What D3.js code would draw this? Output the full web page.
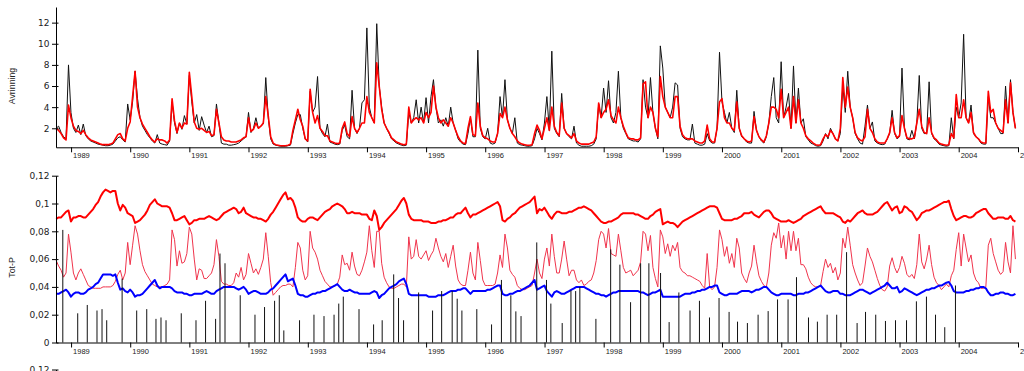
<!DOCTYPE html>
<html><head><meta charset="utf-8">
<script src="https://cdn.jsdelivr.net/npm/d3@7"></script>
<style>
body{margin:0;background:#fff;}
svg{display:block;}
</style>
</head><body>
<svg id="c" width="1024" height="371"></svg>
<script>
// ---- data: half-monthly samples starting 1988-10-01 (24 per year) ----
const seriesStart = "1988-10-01";
const samplesPerYear = 24;

// Avrinning, observed (black)
const runoffObs = [
 2.0,2.2,1.6,1.2,1.0,8.0,
 3.5,2.0,1.6,2.3,1.4,2.4,1.3,1.0,0.8,0.7,0.6,0.5,0.45,0.4,0.35,0.35,0.4,0.5,0.8,1.1,1.2,0.9,0.7,4.3,
 2.8,4.5,7.4,4.8,3.0,2.2,1.8,1.4,1.1,0.8,0.6,1.4,0.6,0.5,0.45,0.4,0.8,4.5,2.5,1.5,2.5,1.9,3.2,2.4,
 7.0,4.5,2.5,3.3,1.8,3.1,2.3,1.6,2.2,1.2,1.3,4.3,2.5,0.6,0.5,0.5,0.4,0.4,0.45,0.5,0.6,0.8,1.0,1.2,
 3.5,1.6,2.0,3.0,2.0,2.2,2.4,6.8,3.0,1.0,0.5,0.4,0.35,0.3,0.3,0.3,0.35,0.4,1.5,2.5,3.3,3.3,2.0,1.0,
 0.7,5.5,3.5,4.0,6.9,2.0,1.5,1.2,2.4,0.7,0.6,0.5,0.45,0.5,1.8,2.3,1.2,1.0,5.6,2.0,1.5,2.0,4.4,4.7,
 11.5,4.0,3.0,2.5,11.9,6.0,4.0,2.5,2.0,1.5,1.0,0.8,0.6,0.5,0.4,0.35,0.4,3.5,2.5,3.0,4.7,2.5,4.0,2.5,
 4.9,2.5,5.0,6.6,4.0,2.5,2.8,2.2,3.0,2.2,4.0,2.5,1.8,1.0,0.7,0.5,0.45,1.5,3.0,1.2,1.2,9.4,2.0,1.2,
 1.0,2.0,0.6,0.5,0.6,1.5,5.0,3.0,6.6,2.8,2.0,1.5,3.0,0.6,0.45,0.4,0.35,0.3,0.3,0.35,1.0,2.0,1.5,0.9,
 2.5,5.0,1.8,9.3,2.0,1.5,1.2,5.3,2.0,1.5,1.2,1.0,2.2,0.6,0.4,0.3,0.3,0.3,0.3,0.35,0.5,1.0,4.3,3.0,
 5.8,3.5,6.5,3.0,2.5,3.5,7.4,3.0,2.0,1.5,1.0,0.9,0.8,0.8,0.7,1.0,6.6,4.0,3.0,6.8,3.5,2.0,1.0,9.8,
 7.7,4.0,3.5,3.0,4.0,6.3,6.1,2.0,1.2,1.0,0.9,0.9,2.4,0.6,0.5,0.4,0.4,0.5,1.5,0.8,0.6,0.6,2.0,9.2,
 4.5,3.5,2.5,3.5,2.0,1.6,5.6,2.0,1.2,1.0,0.7,0.6,0.6,3.6,1.8,1.2,0.8,0.6,1.2,2.5,5.0,6.8,3.0,2.5,
 8.3,3.0,4.0,5.3,2.0,7.9,2.5,5.8,2.5,2.9,1.2,0.9,0.6,0.5,0.35,0.3,0.35,0.8,1.5,1.0,2.0,1.5,1.0,0.8,
 1.5,6.0,3.5,7.4,4.0,3.0,1.5,1.0,0.6,0.5,2.2,4.2,2.0,2.6,0.8,0.6,0.5,0.45,0.5,1.0,1.5,3.7,1.5,1.0,
 1.2,7.7,2.0,1.0,0.9,1.8,1.0,2.5,7.0,2.0,1.5,1.5,6.4,1.5,1.0,0.8,0.5,0.4,0.35,0.3,0.35,3.0,1.0,4.0,
 3.0,4.4,10.9,3.0,2.5,4.2,1.5,1.2,1.0,0.6,0.5,0.5,5.0,3.0,3.0,2.5,2.0,1.5,1.5,6.0,2.5,6.6,3.5,2.0
];

// Avrinning, simulated (red)
const runoffSim = [
 2.0,1.8,1.5,1.1,0.9,4.2,
 3.0,2.2,1.8,1.7,1.5,1.8,1.4,1.1,0.9,0.8,0.7,0.6,0.5,0.45,0.45,0.45,0.5,0.6,1.0,1.4,1.5,1.0,0.8,2.0,
 2.6,5.0,7.4,4.0,3.0,2.4,2.0,1.6,1.2,0.9,0.7,1.0,0.9,0.9,0.8,0.6,0.9,4.8,2.7,1.6,2.5,2.0,2.5,2.4,
 7.3,5.0,2.6,2.0,1.9,2.0,1.8,1.6,1.7,1.3,1.4,3.8,2.5,1.2,0.9,0.8,0.8,0.7,0.7,0.7,0.8,0.9,1.1,1.2,
 3.0,1.7,1.9,2.5,2.0,2.2,2.5,5.0,3.2,1.2,0.6,0.45,0.4,0.35,0.35,0.35,0.4,0.5,1.8,2.8,3.8,2.8,2.2,1.0,
 0.8,5.7,3.5,2.5,3.2,2.0,1.7,1.3,1.3,0.8,0.7,0.6,0.55,0.6,2.0,2.6,1.5,1.2,3.1,2.0,1.6,2.0,2.5,2.5,
 5.0,3.5,3.0,2.5,8.2,6.0,3.8,2.5,2.0,1.6,1.1,0.9,0.7,0.6,0.5,0.45,0.5,4.0,2.5,2.8,3.0,2.8,3.0,2.5,
 3.5,3.0,3.5,6.0,4.0,3.0,2.5,2.8,2.5,2.2,3.0,2.5,1.8,1.2,0.8,0.6,0.55,2.0,3.1,1.4,1.3,4.4,2.2,1.3,
 1.1,1.0,0.8,0.7,0.7,1.5,3.4,3.0,4.0,2.8,2.0,1.5,1.2,0.8,0.6,0.5,0.45,0.4,0.4,0.45,1.5,2.3,1.8,1.0,
 2.0,3.0,1.8,4.0,2.2,1.6,1.3,4.4,2.0,1.5,1.3,1.1,1.5,0.8,0.6,0.5,0.5,0.5,0.5,0.6,0.7,1.2,4.4,3.0,
 3.5,3.8,4.7,3.2,2.8,2.5,4.0,3.0,2.2,1.6,1.1,1.0,1.0,0.9,0.9,1.1,6.2,6.4,3.0,4.0,3.5,2.0,1.2,6.9,
 5.0,4.0,3.5,3.0,3.0,5.0,5.0,2.2,1.4,1.1,1.0,1.0,1.0,0.8,0.7,0.6,0.6,0.8,2.3,1.0,0.7,0.7,2.0,4.5,
 4.8,3.0,2.5,2.5,2.0,1.8,4.5,2.0,1.3,1.0,0.8,0.7,0.8,3.1,1.8,1.2,0.9,0.7,1.3,2.5,4.0,4.0,3.8,3.0,
 5.7,3.0,3.5,4.0,2.0,5.0,2.5,4.7,2.5,2.0,1.3,1.0,0.8,0.6,0.45,0.4,0.45,1.0,1.4,1.2,1.8,1.5,1.0,0.8,
 2.0,6.8,4.0,5.9,4.0,3.0,1.6,1.1,0.9,0.8,1.2,3.8,2.0,1.6,1.0,0.7,0.6,0.6,0.6,1.0,1.6,3.0,1.6,1.1,
 1.3,3.2,2.0,1.1,1.0,1.0,1.1,2.5,3.8,2.2,1.6,1.5,3.0,1.6,1.1,0.9,0.6,0.5,0.45,0.4,0.45,1.5,1.1,5.2,
 3.0,3.0,4.7,3.0,2.5,3.5,1.6,1.2,1.0,0.7,0.6,0.6,5.5,3.5,3.8,2.5,2.0,1.8,1.6,4.7,2.5,6.3,3.5,2.0
];

// Tot-P, upper thick red
const totPUpper = [
 0.089,0.090,0.090,0.092,0.094,0.095,
 0.087,0.090,0.090,0.091,0.091,0.090,0.090,0.092,0.094,0.096,0.099,0.101,0.105,0.108,0.110,0.109,0.108,0.109,0.109,0.100,0.095,0.099,0.097,0.093,
 0.092,0.091,0.086,0.087,0.088,0.090,0.092,0.095,0.099,0.101,0.103,0.100,0.099,0.098,0.098,0.098,0.097,0.093,0.088,0.088,0.089,0.090,0.091,0.088,
 0.085,0.086,0.088,0.088,0.089,0.089,0.089,0.090,0.091,0.090,0.089,0.088,0.089,0.091,0.093,0.094,0.095,0.096,0.097,0.096,0.093,0.094,0.097,0.093,
 0.092,0.091,0.090,0.090,0.089,0.089,0.088,0.087,0.089,0.092,0.094,0.097,0.100,0.103,0.106,0.108,0.103,0.104,0.102,0.097,0.090,0.088,0.087,0.087,
 0.089,0.090,0.090,0.089,0.088,0.090,0.092,0.094,0.095,0.096,0.098,0.099,0.100,0.099,0.098,0.096,0.093,0.093,0.094,0.093,0.093,0.093,0.092,0.092,
 0.092,0.089,0.088,0.095,0.091,0.081,0.083,0.086,0.088,0.090,0.092,0.094,0.096,0.099,0.102,0.104,0.100,0.092,0.089,0.088,0.088,0.088,0.088,0.087,
 0.087,0.087,0.086,0.086,0.086,0.087,0.087,0.088,0.088,0.089,0.090,0.090,0.092,0.093,0.093,0.095,0.097,0.093,0.090,0.092,0.092,0.093,0.094,0.095,
 0.096,0.097,0.098,0.099,0.100,0.101,0.098,0.088,0.087,0.089,0.090,0.092,0.093,0.095,0.097,0.098,0.099,0.100,0.101,0.103,0.105,0.093,0.096,0.095,
 0.097,0.094,0.091,0.089,0.092,0.094,0.094,0.093,0.093,0.093,0.094,0.094,0.095,0.096,0.097,0.097,0.098,0.097,0.096,0.095,0.093,0.091,0.089,0.087,
 0.086,0.086,0.087,0.087,0.088,0.089,0.090,0.092,0.093,0.093,0.093,0.093,0.093,0.092,0.092,0.091,0.090,0.089,0.089,0.091,0.092,0.094,0.095,0.096,
 0.085,0.086,0.087,0.086,0.086,0.085,0.083,0.085,0.087,0.088,0.089,0.090,0.091,0.092,0.093,0.094,0.095,0.096,0.097,0.098,0.098,0.098,0.097,0.093,
 0.089,0.088,0.088,0.088,0.088,0.089,0.089,0.090,0.091,0.093,0.093,0.093,0.094,0.092,0.091,0.090,0.092,0.094,0.095,0.095,0.093,0.090,0.089,0.088,
 0.087,0.087,0.087,0.088,0.087,0.086,0.087,0.088,0.089,0.091,0.092,0.093,0.094,0.095,0.096,0.097,0.098,0.095,0.093,0.093,0.093,0.093,0.092,0.091,
 0.090,0.087,0.086,0.088,0.087,0.089,0.091,0.093,0.094,0.095,0.093,0.092,0.092,0.092,0.093,0.094,0.096,0.098,0.100,0.101,0.098,0.095,0.097,0.098,
 0.093,0.094,0.098,0.097,0.095,0.094,0.091,0.088,0.090,0.093,0.094,0.095,0.095,0.096,0.097,0.098,0.099,0.100,0.101,0.101,0.102,0.096,0.091,0.088,
 0.089,0.090,0.091,0.091,0.090,0.090,0.091,0.093,0.094,0.095,0.096,0.096,0.093,0.091,0.089,0.089,0.090,0.090,0.090,0.089,0.089,0.091,0.088,0.087
];

// Tot-P, thin red
const totPThin = [
 0.059,0.055,0.052,0.047,0.050,0.078,
 0.065,0.050,0.045,0.050,0.053,0.049,0.045,0.041,0.040,0.039,0.039,0.039,0.039,0.040,0.040,0.040,0.040,0.041,0.044,0.049,0.052,0.045,0.050,0.072,
 0.056,0.070,0.084,0.078,0.066,0.056,0.051,0.048,0.045,0.042,0.041,0.040,0.040,0.040,0.041,0.042,0.045,0.081,0.074,0.055,0.066,0.057,0.058,0.064,
 0.083,0.078,0.060,0.045,0.053,0.052,0.046,0.046,0.048,0.050,0.056,0.074,0.062,0.044,0.042,0.042,0.041,0.041,0.043,0.050,0.047,0.054,0.045,0.049,
 0.064,0.057,0.050,0.053,0.049,0.054,0.060,0.079,0.062,0.043,0.034,0.036,0.038,0.040,0.041,0.041,0.042,0.042,0.040,0.054,0.072,0.068,0.052,0.045,
 0.048,0.080,0.068,0.065,0.060,0.052,0.048,0.044,0.042,0.040,0.040,0.041,0.042,0.047,0.063,0.056,0.057,0.052,0.065,0.055,0.049,0.048,0.052,0.058,
 0.065,0.084,0.066,0.054,0.080,0.080,0.057,0.047,0.043,0.040,0.039,0.039,0.040,0.041,0.042,0.042,0.040,0.076,0.060,0.062,0.074,0.062,0.060,0.063,
 0.066,0.059,0.063,0.066,0.075,0.068,0.062,0.058,0.064,0.054,0.062,0.070,0.055,0.045,0.042,0.041,0.041,0.052,0.065,0.050,0.045,0.072,0.059,0.045,
 0.041,0.041,0.041,0.041,0.042,0.050,0.063,0.054,0.078,0.068,0.052,0.049,0.047,0.041,0.039,0.038,0.038,0.039,0.040,0.041,0.050,0.060,0.050,0.046,
 0.060,0.068,0.055,0.078,0.062,0.050,0.050,0.060,0.073,0.060,0.048,0.052,0.052,0.045,0.043,0.045,0.041,0.042,0.044,0.045,0.050,0.059,0.074,0.080,
 0.078,0.068,0.082,0.064,0.063,0.062,0.078,0.066,0.054,0.050,0.051,0.052,0.048,0.050,0.052,0.058,0.080,0.078,0.066,0.077,0.054,0.046,0.040,0.081,
 0.076,0.064,0.071,0.062,0.070,0.066,0.072,0.054,0.051,0.050,0.048,0.048,0.047,0.046,0.045,0.044,0.041,0.039,0.064,0.040,0.038,0.040,0.054,0.081,
 0.074,0.062,0.069,0.057,0.064,0.054,0.075,0.068,0.050,0.046,0.043,0.050,0.055,0.070,0.058,0.048,0.044,0.041,0.040,0.050,0.070,0.079,0.075,0.086,
 0.068,0.077,0.060,0.080,0.066,0.080,0.066,0.075,0.056,0.056,0.053,0.047,0.043,0.041,0.040,0.040,0.041,0.051,0.060,0.054,0.057,0.050,0.054,0.045,
 0.050,0.075,0.068,0.083,0.070,0.056,0.050,0.045,0.041,0.043,0.055,0.068,0.062,0.058,0.052,0.046,0.041,0.038,0.037,0.040,0.055,0.061,0.054,0.050,
 0.054,0.062,0.057,0.049,0.047,0.049,0.046,0.056,0.078,0.058,0.053,0.060,0.070,0.056,0.047,0.043,0.041,0.038,0.040,0.042,0.040,0.048,0.052,0.067,
 0.079,0.055,0.078,0.068,0.058,0.063,0.050,0.045,0.043,0.039,0.039,0.040,0.070,0.075,0.064,0.058,0.052,0.049,0.051,0.072,0.058,0.050,0.084,0.060
];

// Tot-P, blue
const totPBlue = [
 0.035,0.035,0.036,0.037,0.038,0.036,
 0.033,0.035,0.036,0.036,0.035,0.035,0.036,0.038,0.039,0.040,0.042,0.043,0.046,0.049,0.049,0.049,0.049,0.048,0.049,0.043,0.038,0.039,0.037,0.036,
 0.038,0.036,0.033,0.034,0.034,0.035,0.037,0.039,0.041,0.043,0.045,0.041,0.039,0.040,0.040,0.040,0.040,0.039,0.037,0.036,0.036,0.036,0.035,0.035,
 0.034,0.034,0.035,0.035,0.035,0.035,0.036,0.037,0.036,0.035,0.035,0.037,0.038,0.039,0.040,0.040,0.040,0.040,0.040,0.039,0.038,0.039,0.040,0.038,
 0.035,0.036,0.037,0.037,0.036,0.035,0.035,0.035,0.036,0.038,0.039,0.041,0.043,0.045,0.047,0.049,0.044,0.045,0.046,0.041,0.035,0.034,0.034,0.033,
 0.033,0.034,0.035,0.035,0.036,0.036,0.037,0.037,0.038,0.039,0.040,0.041,0.042,0.040,0.038,0.037,0.037,0.038,0.037,0.036,0.036,0.035,0.035,0.035,
 0.035,0.035,0.036,0.037,0.036,0.032,0.034,0.035,0.037,0.039,0.040,0.041,0.042,0.044,0.045,0.046,0.042,0.035,0.034,0.034,0.034,0.034,0.034,0.034,
 0.034,0.033,0.033,0.033,0.033,0.034,0.034,0.034,0.035,0.036,0.037,0.037,0.037,0.038,0.038,0.039,0.039,0.037,0.035,0.037,0.037,0.037,0.037,0.037,
 0.037,0.038,0.038,0.039,0.040,0.041,0.041,0.035,0.034,0.034,0.035,0.035,0.036,0.037,0.037,0.038,0.039,0.040,0.041,0.043,0.045,0.038,0.039,0.040,
 0.041,0.037,0.035,0.033,0.036,0.037,0.036,0.035,0.035,0.036,0.037,0.038,0.039,0.040,0.040,0.040,0.040,0.039,0.038,0.037,0.036,0.035,0.035,0.034,
 0.034,0.033,0.034,0.035,0.036,0.036,0.037,0.037,0.037,0.037,0.037,0.037,0.037,0.037,0.037,0.036,0.036,0.035,0.034,0.035,0.036,0.036,0.037,0.038,
 0.033,0.033,0.033,0.033,0.033,0.033,0.033,0.033,0.034,0.035,0.035,0.035,0.036,0.036,0.037,0.037,0.038,0.038,0.039,0.040,0.040,0.041,0.041,0.036,
 0.035,0.034,0.034,0.035,0.035,0.035,0.035,0.036,0.037,0.037,0.037,0.037,0.036,0.037,0.038,0.038,0.039,0.040,0.040,0.038,0.036,0.035,0.034,0.034,
 0.035,0.035,0.035,0.035,0.035,0.034,0.034,0.035,0.035,0.035,0.036,0.036,0.037,0.038,0.039,0.040,0.041,0.039,0.037,0.036,0.036,0.037,0.037,0.037,
 0.035,0.035,0.034,0.034,0.034,0.035,0.036,0.037,0.038,0.038,0.037,0.036,0.035,0.036,0.037,0.038,0.039,0.040,0.041,0.043,0.041,0.039,0.039,0.040,
 0.036,0.037,0.039,0.038,0.037,0.036,0.035,0.034,0.035,0.036,0.037,0.038,0.038,0.039,0.039,0.040,0.041,0.041,0.042,0.043,0.0435,0.041,0.037,0.036,
 0.036,0.036,0.036,0.037,0.037,0.038,0.038,0.039,0.039,0.040,0.040,0.039,0.036,0.034,0.034,0.035,0.035,0.036,0.036,0.035,0.035,0.034,0.034,0.035
];

// Tot-P, observed samples (vertical bars)
const sampleDates = [
 "1988-11-11","1989-02-11","1989-04-11","1989-06-10","1989-07-11","1989-08-09","1989-11-12",
 "1990-02-10","1990-04-13","1990-06-09","1990-07-10","1990-08-10","1990-11-12",
 "1991-02-11","1991-04-11","1991-06-12","1991-07-09","1991-08-09","1991-11-11",
 "1992-02-10","1992-04-09","1992-06-10","1992-07-09","1992-08-06","1992-11-11",
 "1993-02-08","1993-04-11","1993-06-12","1993-07-11","1993-08-08","1993-11-13",
 "1994-02-11","1994-04-05","1994-06-15","1994-07-15","1994-08-15","1994-11-16",
 "1995-02-10","1995-04-07","1995-06-11","1995-07-12","1995-08-10","1995-11-10",
 "1996-02-09","1996-04-10","1996-06-07","1996-07-08","1996-08-09","1996-11-14",
 "1997-01-13","1997-02-09","1997-04-20","1997-06-13","1997-07-12","1997-08-07","1997-11-14",
 "1998-02-13","1998-04-11","1998-06-16","1998-08-17","1998-10-07","1998-12-18",
 "1999-02-09","1999-04-10","1999-06-18","1999-08-15","1999-10-16","1999-12-14",
 "2000-02-14","2000-04-06","2000-06-06","2000-08-11","2000-10-12","2000-12-09",
 "2001-02-12","2001-04-05","2001-06-18","2001-08-12","2001-10-11","2001-12-09",
 "2002-02-08","2002-04-14","2002-06-05","2002-08-07","2002-10-06","2002-12-07",
 "2003-02-13","2003-04-15","2003-06-16","2003-08-11","2003-10-07","2003-12-12"
];
const sampleValues = [
 0.081,0.021,0.027,0.023,0.024,0.016,0.046,
 0.023,0.024,0.017,0.018,0.016,0.021,
 0.016,0.030,0.017,0.064,0.057,0.034,
 0.020,0.0255,0.030,0.034,0.0087,0.016,
 0.020,0.019,0.020,0.028,0.033,0.024,
 0.013,0.016,0.049,0.032,0.016,0.036,
 0.023,0.037,0.037,0.0315,0.023,0.024,
 0.013,0.045,0.034,0.0224,0.019,0.072,
 0.045,0.028,0.014,0.0375,0.037,0.040,0.017,
 0.067,0.056,0.029,0.057,0.057,0.050,
 0.0147,0.036,0.023,0.030,0.018,0.032,
 0.022,0.015,0.014,0.020,0.0226,0.031,
 0.031,0.047,0.018,0.015,0.020,0.020,
 0.065,0.014,0.022,0.020,0.0155,0.016,
 0.016,0.0296,0.033,0.020,0.011,0.041
];

const runoffTicks = [2,4,6,8,10,12];
const totPTicks = [0,0.02,0.04,0.06,0.08,0.1,0.12];
const nextPanelTicks = [0.12];
const yTitles = ["Avrinning","Tot-P"];

// ---- drawing ----
const svg = d3.select("#c");
const parse = d3.utcParse("%Y-%m-%d");
const t0 = parse(seriesStart).getTime();
const stepMs = 365.25 / samplesPerYear * 86400000;
const dateAt = i => new Date(t0 + i * stepMs);

const x = d3.scaleUtc()
  .domain([Date.UTC(1988, 8, 30), Date.UTC(2005, 0, 1)])
  .range([56, 1018]);

const yTop = d3.scaleLinear().domain([0.2, 13.48]).range([147.3, 7]);
const yBot = d3.scaleLinear().domain([0, 0.12]).range([342.5, 175.7]);
const y3 = d3.scaleLinear().domain([0.1, 0.12]).range([397.3, 369.5]);

const commaFmt = v => v === 0 ? "0" : String(+v.toFixed(2)).replace(".", ",");

function drawYAxis(scale, ticks, fmt) {
  const g = svg.append("g").attr("transform", "translate(56,0)")
    .call(d3.axisLeft(scale).tickValues(ticks).tickFormat(fmt).tickSizeInner(4).tickSizeOuter(0).tickPadding(3));
  g.select(".domain").attr("stroke", "#000");
  g.selectAll(".tick line").attr("x1", 2.5).attr("stroke", "#000");
  g.selectAll("text").attr("font-family", "'DejaVu Sans', Verdana, sans-serif")
    .attr("font-size", 9).attr("fill", "#222").attr("x", -6.5);
  return g;
}
function drawXAxis(yPos) {
  const g = svg.append("g").attr("transform", `translate(0,${yPos})`)
    .call(d3.axisBottom(x).ticks(d3.utcYear.every(1)).tickFormat(d3.utcFormat("%Y")).tickSizeInner(5).tickSizeOuter(0));
  g.select(".domain").attr("stroke", "#000");
  g.selectAll(".tick line").attr("stroke", "#000");
  g.selectAll("text").attr("font-family", "'Liberation Sans', Arial, sans-serif")
    .attr("font-size", 7.5).attr("fill", "#222")
    .attr("text-anchor", "start").attr("x", 1.5).attr("y", 8.5).attr("dy", "0.35em");
  return g;
}

// top panel
const lineTop = d3.line().x((d, i) => x(dateAt(i))).y(d => yTop(d));
svg.append("path").datum(runoffObs).attr("d", lineTop)
  .attr("fill", "none").attr("stroke", "#111").attr("stroke-width", 1).attr("stroke-linejoin", "round");
svg.append("path").datum(runoffSim).attr("d", lineTop)
  .attr("fill", "none").attr("stroke", "#ff0000").attr("stroke-width", 1.6).attr("stroke-linejoin", "round");
drawYAxis(yTop, runoffTicks, d3.format("d"));
drawXAxis(147.3);

// bottom panel
const lineBot = d3.line().x((d, i) => x(dateAt(i))).y(d => yBot(d));
svg.append("path").datum(totPThin).attr("d", lineBot)
  .attr("fill", "none").attr("stroke", "#f0344c").attr("stroke-width", 1).attr("stroke-linejoin", "round");
svg.append("path").datum(totPUpper).attr("d", lineBot)
  .attr("fill", "none").attr("stroke", "#ff0000").attr("stroke-width", 2).attr("stroke-linejoin", "round");
svg.append("path").datum(totPBlue).attr("d", lineBot)
  .attr("fill", "none").attr("stroke", "#0000ff").attr("stroke-width", 2).attr("stroke-linejoin", "round");
svg.append("g").selectAll("line")
  .data(sampleDates.map((d, i) => ({date: parse(d), v: sampleValues[i]})))
  .join("line")
  .attr("x1", d => x(d.date)).attr("x2", d => x(d.date))
  .attr("y1", yBot(0)).attr("y2", d => yBot(d.v))
  .attr("stroke", "#111").attr("stroke-width", 1);
drawYAxis(yBot, totPTicks, commaFmt);
drawXAxis(342.5);

// third panel (only its top edge is inside the window)
drawYAxis(y3, nextPanelTicks, commaFmt);

// axis titles
const titleY = [86, 267.5];
yTitles.forEach((t, i) => {
  svg.append("text").text(t)
    .attr("transform", `translate(12,${titleY[i]}) rotate(-90)`)
    .attr("text-anchor", "middle").attr("dominant-baseline", "central")
    .attr("font-family", "'Liberation Sans', Arial, sans-serif")
    .attr("font-size", 8.8).attr("fill", "#222");
});
</script>
</body></html>
